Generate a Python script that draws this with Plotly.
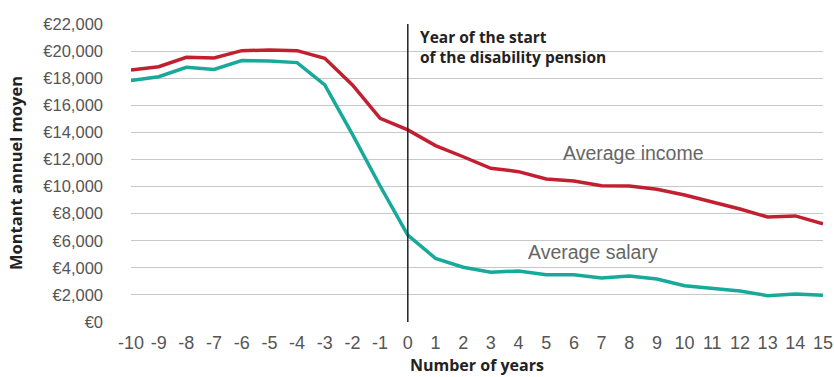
import plotly.graph_objects as go

years = list(range(-10, 16))
income = [18600, 18850, 19540, 19490, 20030, 20080, 20030, 19470, 17500, 15040, 14180,
          13020, 12200, 11350, 11100, 10560, 10410, 10060, 10040, 9800, 9380, 8880, 8340, 7750, 7830, 7240]
salary = [17820, 18110, 18800, 18650, 19300, 19270, 19150, 17500, 13850, 10040, 6420,
          4700, 4040, 3670, 3770, 3490, 3490, 3250, 3400, 3170, 2680, 2490, 2290, 1940, 2070, 1970]
y_ticks = list(range(0, 22001, 2000))
y_labels = ["€0"] + [f"€{v:,}" for v in y_ticks[1:]]

fig = go.Figure()
fig.add_trace(go.Scatter(x=years, y=income, mode="lines", name="Average income",
                         line=dict(color="#c21f30", width=3.5), showlegend=False))
fig.add_trace(go.Scatter(x=years, y=salary, mode="lines", name="Average salary",
                         line=dict(color="#17a99a", width=3.5), showlegend=False))

fig.add_shape(type="line", x0=0, x1=0, y0=0, y1=22000, xref="x", yref="y",
              line=dict(color="#222222", width=1.5))

fig.add_annotation(x=0, y=22000, xref="x", yref="y", xshift=10, yshift=0,
                   text="<b>Year of the start<br>of the disability pension</b>",
                   showarrow=False, xanchor="left", yanchor="top", align="left",
                   font=dict(family="Open Sans", size=15.5, color="#222222"))
fig.add_annotation(x=8.17, y=12480, xref="x", yref="y", text="Average income",
                   showarrow=False, xanchor="center", yanchor="middle",
                   font=dict(family="Liberation Sans", size=19.5, color="#666666"))
fig.add_annotation(x=6.69, y=5170, xref="x", yref="y", text="Average salary",
                   showarrow=False, xanchor="center", yanchor="middle",
                   font=dict(family="Liberation Sans", size=19.5, color="#666666"))
fig.add_annotation(x=0.5, y=-0.145, xref="paper", yref="paper", borderpad=0,
                   text="<b>Number of years</b>", showarrow=False,
                   xanchor="center", yanchor="middle",
                   font=dict(family="Open Sans", size=16, color="#222222"))

fig.update_layout(
    width=834, height=377,
    margin=dict(l=131, r=11, t=24, b=55),
    paper_bgcolor="white", plot_bgcolor="white",
    xaxis=dict(range=[-10, 15], tickmode="array", tickvals=years, automargin=False,
               ticktext=[str(v) for v in years], showgrid=False, zeroline=False,
               showline=False, ticks="", ticklabelstandoff=8,
               tickfont=dict(family="Liberation Sans", size=18, color="#555555")),
    yaxis=dict(range=[0, 22000], tickmode="array", tickvals=y_ticks, ticktext=y_labels,
               automargin=False,
               showgrid=True, gridcolor="#c8c8c8", gridwidth=1, zeroline=False,
               showline=False, ticks="", ticklabelstandoff=27,
               tickfont=dict(family="Liberation Sans", size=16.5, color="#555555"),
               title=dict(text="<b>Montant annuel moyen</b>", standoff=16,
                          font=dict(family="Open Sans", size=16.5, color="#222222"))),
)
fig.write_html("out.html")
